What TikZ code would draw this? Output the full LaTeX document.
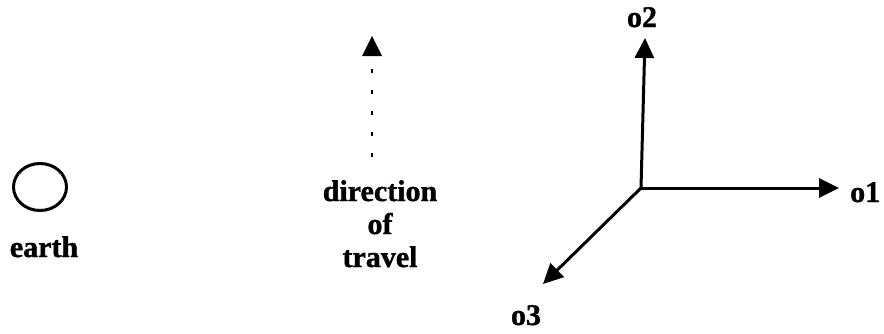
\documentclass[tikz,border=0pt]{standalone}
\usepackage{fontspec}
\setmainfont{Liberation Serif}[BoldFeatures={FakeBold=1.2}]
\usetikzlibrary{arrows.meta,shapes.geometric}
\begin{document}
\begin{tikzpicture}[x=1pt,y=-1pt,
  lbl/.style={font=\fontsize{30}{33}\selectfont\bfseries, inner sep=0pt, align=center},
  axis/.style={line width=3pt, -{Triangle[length=20pt,width=19pt]}},
  travel/.style={line width=2pt, dash pattern=on 4pt off 17pt}]
\useasboundingbox (0,0) rectangle (884,333);
\node[draw, line width=3pt, ellipse, minimum width=53pt, minimum height=47pt, inner sep=0pt] (earth) at (40,187) {};
\node[lbl, anchor=base] (earthlbl) at (44,257) {earth};
\coordinate (dstart) at (372,157);
\coordinate (dtip) at (372,36);
\coordinate (dbase) at (372,56);
\draw[travel] (dstart) -- (dbase);
\fill (dtip) -- ([xshift=-10pt]dbase) -- ([xshift=10pt]dbase) -- cycle;
\node[lbl, anchor=base] (dir) at (380,267) {direction\\of\\travel};
\coordinate (O) at (641,188);
\coordinate (t2) at (645,38);
\coordinate (t1) at (839,188);
\coordinate (t3) at (543,284);
\draw[axis] (O) -- (t2);
\draw[axis] (O) -- (t1);
\draw[axis] (O) -- (t3);
\node[lbl, anchor=base] (o2) at (642,27) {o2};
\node[lbl, anchor=base west] (o1) at (850,202) {o1};
\node[lbl, anchor=base] (o3) at (526,325) {o3};
\end{tikzpicture}
\end{document}
